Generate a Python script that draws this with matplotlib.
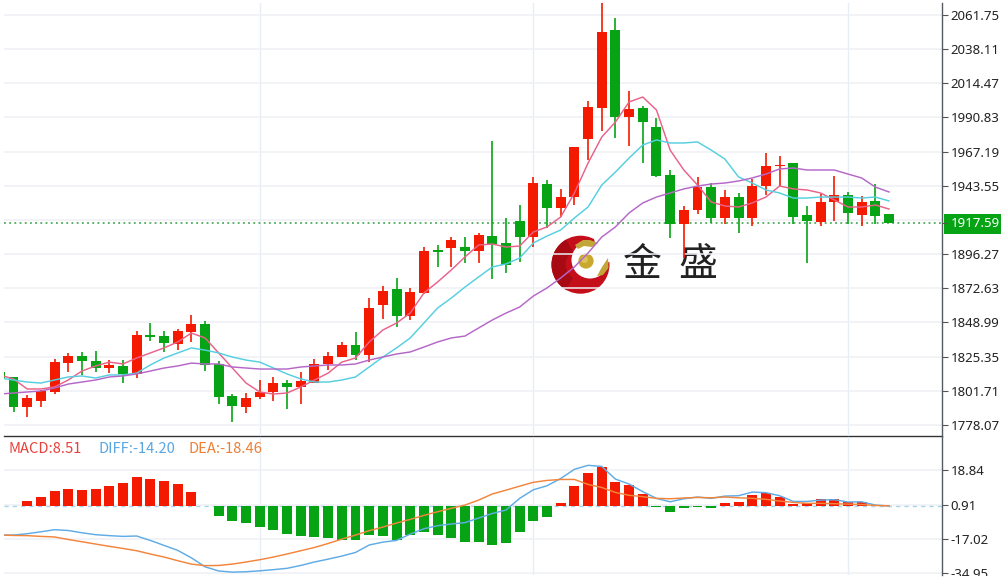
import matplotlib
matplotlib.use("Agg")
import matplotlib.pyplot as plt
from matplotlib.patches import Circle, Polygon, Rectangle, Wedge
from matplotlib.ticker import FormatStrFormatter
from matplotlib.transforms import Bbox
import numpy as np

# ---- data (first entry is the candle cut off by the left edge) ----
opens = [1814.7,1811.3,1790.5,1794.7,1800.9,1820.9,1825.8,1822.3,1817.5,1818.9,1813.4,1840.3,1839.6,1834.1,1842.4,1847.9,
         1820.3,1798.1,1790.5,1797.5,1800.9,1807.1,1804.4,1807.1,1820.3,1825.1,1833.4,1826.5,1861.1,1872.2,1853.5,1869.4,
         1899.1,1900.5,1901.2,1898.5,1908.8,1904.0,1919.2,1908.1,1944.8,1928.2,1935.8,1976.0,1997.4,2051.4,1991.2,1997.4,
         1984.3,1951.0,1917.1,1926.8,1942.7,1921.3,1935.8,1921.3,1943.4,1957.3,1959.3,1923.4,1918.5,1932.4,1937.2,1923.4,
         1933.1,1924.1]
closes = [1810.6,1790.5,1796.8,1801.6,1821.6,1825.8,1822.3,1817.5,1819.6,1813.4,1840.3,1838.9,1834.8,1843.1,1847.9,1819.6,
          1797.5,1791.2,1796.8,1800.9,1807.1,1804.4,1808.5,1820.3,1825.8,1833.4,1826.5,1859.0,1870.8,1853.5,1870.1,1898.5,
          1897.8,1906.1,1898.5,1909.5,1903.3,1888.8,1908.1,1945.5,1928.2,1935.8,1970.4,1998.1,2050.0,1991.2,1996.7,1987.7,
          1950.4,1917.1,1926.8,1942.7,1921.3,1935.8,1921.3,1943.4,1957.3,1958.0,1922.0,1919.2,1932.4,1937.2,1924.8,1932.4,
          1922.7,1917.59]
highs = [1814.7,1811.3,1798.8,1802.3,1823.7,1827.9,1828.6,1829.3,1823.0,1823.0,1843.1,1848.6,1843.1,1844.5,1854.2,1850.0,
         1822.3,1799.5,1800.2,1809.2,1811.3,1809.2,1814.7,1823.7,1828.6,1835.5,1842.4,1865.9,1874.2,1879.8,1872.9,1901.2,
         1902.6,1908.1,1908.1,1910.9,1974.6,1921.3,1930.3,1949.7,1947.6,1941.4,1970.4,2002.2,2070.0,2059.7,2009.2,1998.8,
         1990.5,1954.5,1929.6,1949.7,1945.5,1940.7,1938.6,1948.3,1966.3,1964.2,1959.3,1929.6,1937.9,1950.4,1939.3,1936.5,
         1944.8,1924.1]
lows = [1810.6,1787.1,1783.6,1790.5,1799.5,1814.7,1812.7,1814.7,1814.0,1807.1,1810.6,1836.2,1828.6,1829.9,1835.5,1815.4,
        1792.6,1780.1,1786.4,1796.1,1794.7,1789.1,1792.6,1807.1,1816.1,1825.1,1823.0,1821.6,1851.4,1845.9,1850.7,1868.7,
        1887.4,1887.4,1890.2,1890.2,1879.1,1883.2,1890.9,1901.2,1914.4,1922.0,1930.3,1961.4,1981.5,1976.7,1971.1,1959.3,
        1949.7,1907.5,1893.6,1924.1,1917.8,1917.1,1910.9,1915.8,1937.2,1942.7,1917.1,1890.2,1915.8,1919.2,1917.1,1915.8,
        1917.1,1917.59]
ma5 = [1812.7,1809.9,1803.0,1803.0,1804.4,1809.2,1815.4,1818.9,1821.6,1820.3,1824.4,1827.9,1831.4,1835.5,1841.7,1838.3,
       1827.9,1817.5,1807.1,1800.9,1799.5,1800.2,1804.4,1809.2,1814.0,1821.6,1824.4,1835.5,1843.8,1848.6,1855.5,1869.4,
       1877.0,1885.3,1894.3,1902.6,1903.3,1901.2,1901.9,1911.6,1915.1,1922.0,1938.6,1959.3,1977.3,1987.7,2001.6,2005.0,
       1996.0,1968.3,1954.5,1944.1,1932.4,1929.6,1928.9,1931.7,1935.8,1943.4,1941.4,1940.7,1938.6,1933.8,1928.9,1928.9,
       1930.3,1927.5]
ma10 = [1810.6,1809.2,1807.8,1807.1,1809.2,1811.3,1812.0,1810.6,1812.7,1812.7,1814.0,1819.6,1824.4,1827.9,1831.4,1829.9,
        1827.9,1825.1,1823.0,1821.6,1817.5,1813.4,1809.9,1807.8,1807.8,1809.2,1811.3,1818.2,1825.1,1831.4,1838.3,1848.6,
        1859.0,1865.9,1873.5,1880.5,1887.4,1889.5,1893.6,1904.0,1908.8,1913.0,1921.3,1928.9,1944.1,1953.1,1962.8,1971.8,
        1975.3,1973.2,1973.2,1973.9,1968.3,1962.1,1949.7,1945.5,1940.7,1938.6,1935.1,1935.1,1935.8,1935.8,1935.8,1935.1,
        1935.8,1933.1]
ma20 = [1799.5,1800.2,1800.9,1801.6,1803.7,1806.4,1807.8,1809.2,1811.3,1812.0,1813.4,1815.4,1817.5,1818.9,1820.9,1820.3,
        1820.3,1818.2,1817.5,1816.8,1816.8,1816.8,1818.2,1818.9,1819.6,1819.6,1820.3,1823.0,1825.1,1827.2,1828.6,1832.0,
        1835.5,1838.3,1839.6,1845.2,1850.7,1855.5,1859.7,1867.3,1872.9,1879.8,1887.4,1897.1,1908.1,1915.1,1924.8,1931.7,
        1935.8,1938.6,1941.4,1943.4,1944.8,1945.5,1946.9,1949.0,1951.7,1955.2,1955.9,1954.5,1954.5,1954.5,1951.7,1949.0,
        1942.7,1939.3]
macd = [0.0,0.3,2.6,5.1,8.2,8.9,8.7,9.1,10.5,12.0,15.3,14.6,13.4,11.9,7.7,0.0,
        -5.1,-7.7,-8.9,-10.8,-12.6,-14.6,-15.5,-15.9,-16.7,-17.6,-17.6,-15.0,-15.5,-17.6,-15.0,-13.6,
        -15.2,-16.4,-18.5,-18.8,-20.1,-19.4,-13.6,-7.5,-5.4,1.6,10.8,17.6,20.8,12.9,11.3,6.6,
        -0.2,-3.0,-1.0,-0.2,-0.7,1.6,2.3,6.1,7.0,5.1,1.0,1.9,3.7,3.8,2.3,2.4,
        0.4,0.3]
diff = [-15.0,-15.0,-14.3,-13.3,-12.2,-12.6,-13.8,-14.8,-15.3,-15.7,-15.5,-17.8,-20.4,-23.0,-26.9,-31.6,
        -33.8,-34.4,-34.2,-33.7,-33.1,-32.4,-30.9,-29.1,-27.6,-26.0,-24.1,-20.2,-18.7,-17.8,-14.5,-11.7,
        -10.1,-9.2,-8.5,-6.1,-3.7,-1.9,4.2,8.7,10.8,14.6,19.4,21.5,20.9,14.3,11.7,7.7,
        4.2,2.4,4.0,4.9,4.2,5.4,5.6,7.5,7.2,5.6,2.6,2.6,3.3,3.5,2.3,2.4,
        0.7,0.2]
dea = [-15.0,-15.2,-15.3,-15.7,-16.0,-17.3,-18.5,-19.7,-20.9,-22.0,-23.2,-24.9,-26.5,-28.4,-30.2,-31.0,
       -30.9,-30.2,-29.1,-27.9,-26.5,-24.9,-23.2,-21.5,-19.4,-17.1,-15.0,-12.7,-10.8,-8.7,-6.8,-4.7,
       -2.8,-1.0,0.7,3.3,6.5,8.5,10.6,12.6,13.6,14.1,14.1,11.5,9.9,7.3,5.8,5.1,
       4.2,4.0,4.4,4.7,4.5,4.9,4.5,4.2,3.7,2.8,2.1,1.6,1.6,1.4,1.2,1.0,
       0.5,0.3]
price_ticks = [2061.75,2038.11,2014.47,1990.83,1967.19,1943.55,1896.27,1872.63,1848.99,1825.35,1801.71,1778.07]
price_grid_extra = [1919.91]
macd_ticks = [18.84,0.91,-17.02,-34.95]
vgrid_idx = [18,38,61]
last_price = 1917.59
legend_labels = ["MACD:8.51", "DIFF:-14.20", "DEA:-18.46"]

RED, GREEN = "#f31a00", "#06a414"
W, H = 1001, 582
X0, X1 = 4, 942
SP, XC = 13.68, 13.5
plt.rcParams['font.family'] = ['Noto Sans', 'DejaVu Sans']

fig = plt.figure(figsize=(W/100, H/100), dpi=100, facecolor="white")
def axpx(l, t, r, b, **k):
    return fig.add_axes([l/W, 1-b/H, (r-l)/W, (b-t)/H], **k)

# pixel-space layer for the logo and watermark
bg = axpx(0, 0, W, H, zorder=0)
bg.set_xlim(0, W); bg.set_ylim(H, 0); bg.axis("off")

ax = axpx(X0, 3, X1, 436, zorder=2, facecolor="none")
ax2 = axpx(X0, 437, X1, 575, zorder=2, facecolor="none")
xlim = ((X0-XC)/SP, (X1-XC)/SP)
for a in (ax, ax2):
    a.set_xlim(*xlim)
    a.set_xticks([])
    a.yaxis.tick_right()
    a.yaxis.set_major_formatter(FormatStrFormatter("%.2f"))
    for s in ("top", "left", "bottom"):
        a.spines[s].set_visible(False)
    a.spines["right"].set_color("#555a60")
    a.spines["right"].set_linewidth(1)
    a.tick_params(axis="y", length=4, width=0.8, color="#555", labelsize=9.5, labelcolor="#222", pad=2)
    for i in vgrid_idx:
        a.axvline(i, color="#e7edf5", lw=1, zorder=1)

ax.set_ylim(1770.46, 2070.05)
ax2.set_ylim(-35.90, 36.32)
ax.set_yticks(price_ticks)
ax2.set_yticks(macd_ticks)
for y in price_ticks + price_grid_extra:
    ax.axhline(y, color="#eef0f4", lw=1.1, zorder=1)
for y in macd_ticks:
    ax2.axhline(y, color="#eef0f4", lw=1.1, zorder=1)

# logo (behind the lines)
bg.add_patch(Circle((580.5, 264.7), 29, color="#c40e1a", lw=0))
bg.add_patch(Wedge((580.5, 264.7), 29, 120, 240, width=14, color="#a80a14", lw=0))
bg.add_patch(Circle((590, 260), 18.5, color="white", lw=0))
bg.add_patch(Polygon([(594,239),(613,238),(613,262),(600,262)], color="white", lw=0))
bg.add_patch(Polygon([(575,245),(583,240),(590,240),(598,243),(592,247),(584,246),(578,249)], color="#c2a63a", lw=0))
bg.add_patch(Polygon([(597,276),(602,267),(608,258),(608.5,268),(603,275)], color="#c2a63a", lw=0))
bg.add_patch(Circle((586, 261), 7.6, color="#c9a82e", lw=0))
bg.add_patch(Circle((584.5, 259.5), 3.5, color="#dcc25a", lw=0))
bg.text(642.5, 265.5, "金", fontsize=28, family="Noto Sans CJK SC", color="#222", ha="center", va="center")
bg.text(698, 265.5, "盛", fontsize=28, family="Noto Sans CJK SC", color="#222", ha="center", va="center")

# candles
x = np.arange(-1, len(opens)-1)
ax.axhline(last_price, color="#2f9e3f", lw=1.1, ls=(0, (1.2, 2.2)), zorder=2)
for xi, o, c, h, l in zip(x, opens, closes, highs, lows):
    col = RED if c >= o else GREEN
    ax.vlines(xi, l, h, color=col, lw=1.2, zorder=3)
    ax.add_patch(Rectangle((xi-0.365, min(o, c)), 0.73, max(abs(c-o), 0.8), facecolor=col, edgecolor="none", zorder=4))
ax.plot(x, ma5, color="#e9628a", lw=1.05, zorder=5)
ax.plot(x, ma10, color="#55cfe0", lw=1.05, zorder=5)
ax.plot(x, ma20, color="#b567c8", lw=1.05, zorder=5)

# last price label
ax.annotate(f"{last_price:.2f}", xy=(1, last_price), xycoords=("axes fraction", "data"),
            xytext=(6.3, 0), textcoords="offset points", color="white", fontsize=9.5, va="center", ha="left",
            annotation_clip=False, zorder=9)
bg.add_patch(Rectangle((944, 214), 57, 20, facecolor=GREEN, edgecolor="none"))
ax.plot([1, 1.005], [last_price]*2, transform=ax.get_yaxis_transform(), color="#555", lw=0.8, clip_on=False, zorder=9)

# MACD panel
ax2.axhline(0, color="#a8d4ea", lw=1, ls=(0, (3, 3)), zorder=1)
for xi, v in zip(x[1:], macd[1:]):
    if v != 0:
        ax2.bar(xi, v, width=0.73, color=RED if v > 0 else GREEN, zorder=3)
ax2.plot(x, diff, color="#60ace6", lw=1.05, zorder=5)
ax2.plot(x, dea, color="#f2853c", lw=1.05, zorder=6)

# dark separator
fig.add_artist(plt.Line2D([X0/W, X1/W], [1-436/H]*2, color="#333", lw=1))

# clip the bottom tick label like the reference
clipb = Bbox([[0, H-575.5], [W, H]])
for t in ax2.get_yticklabels():
    t.set_clip_box(clipb); t.set_clip_on(True)

# legend (above the grid lines)
cjk = ["Noto Sans CJK SC", "DejaVu Sans"]
ty = 1 - 449/H
fig.text(8.5/W, ty, legend_labels[0], color="#e8403a", fontsize=10.6, va="center", family=cjk, zorder=10)
fig.text(98/W, ty, legend_labels[1], color="#5aa6e0", fontsize=10.6, va="center", family=cjk, zorder=10)
fig.text(188/W, ty, legend_labels[2], color="#ef7f35", fontsize=10.6, va="center", family=cjk, zorder=10)

fig.savefig("out.png", dpi=100, facecolor="white")
